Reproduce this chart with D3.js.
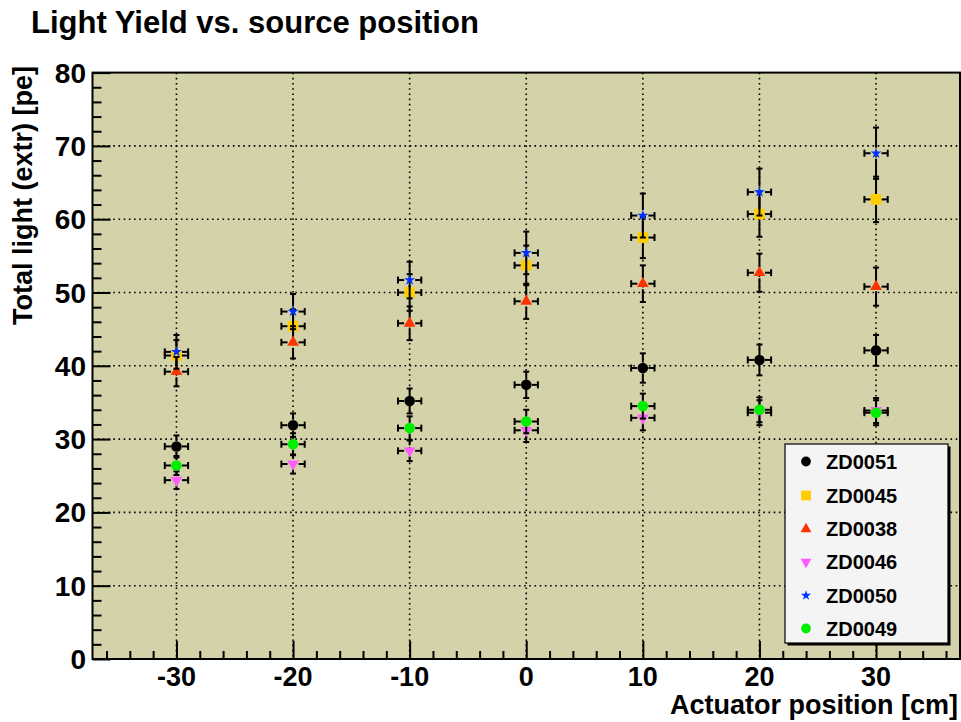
<!DOCTYPE html>
<html>
<head>
<meta charset="utf-8">
<script src="https://cdn.jsdelivr.net/npm/d3@7"></script>
<style>
  html, body { margin: 0; padding: 0; background: #ffffff; }
  svg { display: block; }
  text { font-family: "Liberation Sans", Arial, Helvetica, sans-serif; font-weight: bold; fill: #000; }
</style>
</head>
<body>
<svg id="chart" width="961" height="722"></svg>
<script>
// ---- data ----
const positions = [-30, -20, -10, 0, 10, 20, 30];
const xError = 1;
const seriesNames = ["ZD0051", "ZD0045", "ZD0038", "ZD0046", "ZD0050", "ZD0049"];
const ZD0051 = [29.0, 31.9, 35.2, 37.4, 39.7, 40.8, 42.1];
const ZD0051_err = [1.5, 1.6, 1.7, 1.8, 2.0, 2.1, 2.1];
const ZD0045 = [41.4, 45.4, 50.0, 53.7, 57.5, 60.7, 62.7];
const ZD0045_err = [2.1, 2.3, 2.5, 2.7, 2.8, 3.1, 3.1];
const ZD0038 = [39.2, 43.2, 45.8, 48.8, 51.2, 52.7, 50.8];
const ZD0038_err = [2.0, 2.2, 2.3, 2.4, 2.5, 2.6, 2.6];
const ZD0046 = [24.4, 26.6, 28.4, 31.2, 32.9, 33.6, 33.9];
const ZD0046_err = [1.2, 1.3, 1.4, 1.6, 1.7, 1.7, 1.7];
const ZD0050 = [41.9, 47.4, 51.7, 55.4, 60.5, 63.7, 69.0];
const ZD0050_err = [2.3, 2.4, 2.5, 2.9, 3.0, 3.2, 3.5];
const ZD0049 = [26.4, 29.3, 31.5, 32.4, 34.5, 34.0, 33.6];
const ZD0049_err = [1.3, 1.5, 1.6, 1.6, 1.7, 1.7, 1.7];
const xTicks = [-30, -20, -10, 0, 10, 20, 30];
const yTicks = [0, 10, 20, 30, 40, 50, 60, 70, 80];

const seriesValues = [ZD0051, ZD0045, ZD0038, ZD0046, ZD0050, ZD0049];
const seriesErrors = [ZD0051_err, ZD0045_err, ZD0038_err, ZD0046_err, ZD0050_err, ZD0049_err];

// ---- styles ----
const styles = [
  { color: "#000000", shape: d3.symbolCircle, size: 88, rot: 0 },
  { color: "#ffcc00", shape: d3.symbolSquare, size: 112, rot: 0 },
  { color: "#ff3300", shape: d3.symbolTriangle, size: 60, rot: 0 },
  { color: "#ff5cff", shape: d3.symbolTriangle, size: 60, rot: 180 },
  { color: "#0033ff", shape: d3.symbolStar, size: 38, rot: 0 },
  { color: "#00ee00", shape: d3.symbolCircle, size: 88, rot: 0 }
];

const svg = d3.select("#chart");
const frame = { left: 92.5, right: 960, top: 72.6, bottom: 659 };
const x = d3.scaleLinear().domain([-37.2, 37.2]).range([frame.left, frame.right]);
const y = d3.scaleLinear().domain([0, 80]).range([frame.bottom, frame.top]);

// frame background
svg.append("rect")
  .attr("x", frame.left).attr("y", frame.top)
  .attr("width", frame.right - frame.left).attr("height", frame.bottom - frame.top)
  .attr("fill", "#d4d2a8");

// grid
const grid = svg.append("g").attr("stroke", "#000").attr("stroke-width", 1.6).attr("stroke-dasharray", "1.6,3.6");
xTicks.forEach(t => {
  grid.append("line").attr("x1", x(t)).attr("x2", x(t)).attr("y1", frame.top).attr("y2", frame.bottom);
});
yTicks.filter(t => t > 0 && t < 80).forEach(t => {
  grid.append("line").attr("x1", frame.left).attr("x2", frame.right).attr("y1", y(t)).attr("y2", y(t));
});

// axes (ticks inside frame)
const xAxisMajor = d3.axisTop(x).tickValues(xTicks).tickSize(18).tickFormat("");
const xAxisMinor = d3.axisTop(x).tickValues(d3.range(-36, 37, 2).filter(v => v % 10 !== 0)).tickSize(8).tickFormat("");
const yAxisMajor = d3.axisRight(y).tickValues(yTicks).tickSize(18).tickFormat("");
const yAxisMinor = d3.axisRight(y).tickValues(d3.range(0, 81, 2).filter(v => v % 10 !== 0)).tickSize(9).tickFormat("");

function styleAxis(g) {
  g.select(".domain").remove();
  g.selectAll("line").attr("stroke", "#000").attr("stroke-width", 2);
}
svg.append("g").attr("transform", `translate(0,${frame.bottom})`).call(xAxisMajor).call(styleAxis);
svg.append("g").attr("transform", `translate(0,${frame.bottom})`).call(xAxisMinor).call(styleAxis);
svg.append("g").attr("transform", `translate(${frame.left},0)`).call(yAxisMajor).call(styleAxis);
svg.append("g").attr("transform", `translate(${frame.left},0)`).call(yAxisMinor).call(styleAxis);

// frame border
svg.append("rect")
  .attr("x", frame.left).attr("y", frame.top)
  .attr("width", frame.right - frame.left).attr("height", frame.bottom - frame.top)
  .attr("fill", "none").attr("stroke", "#000").attr("stroke-width", 2);

// tick labels
svg.append("g").selectAll("text").data(xTicks).join("text")
  .attr("x", d => x(d)).attr("y", 686)
  .attr("text-anchor", "middle").attr("font-size", 27)
  .text(d => d);
svg.append("g").selectAll("text").data(yTicks).join("text")
  .attr("x", 86).attr("y", d => y(d)).attr("dy", "0.36em")
  .attr("text-anchor", "end").attr("font-size", 28)
  .text(d => d);

// axis titles
svg.append("text").attr("x", 958).attr("y", 714).attr("text-anchor", "end")
  .attr("font-size", 27).text("Actuator position [cm]");
svg.append("text").attr("transform", "translate(32,66) rotate(-90)").attr("text-anchor", "end")
  .attr("font-size", 27).text("Total light (extr) [pe]");

// title
svg.append("text").attr("x", 31).attr("y", 33).attr("font-size", 31)
  .text("Light Yield vs. source position");

// data with error bars
const gap = 5.5, capV = 3, capH = 3.5;
seriesValues.forEach((vals, si) => {
  const st = styles[si];
  const g = svg.append("g");
  const pts = positions.map((p, i) => ({ px: x(p), py: y(vals[i]), xl: x(p - xError), xr: x(p + xError), yt: y(vals[i] + seriesErrors[si][i]), yb: y(vals[i] - seriesErrors[si][i]) }));
  const eb = g.append("g").attr("stroke", "#000").attr("stroke-width", 2).attr("fill", "none");
  pts.forEach(d => {
    eb.append("line").attr("x1", d.xl).attr("x2", d.px - gap).attr("y1", d.py).attr("y2", d.py);
    eb.append("line").attr("x1", d.px + gap).attr("x2", d.xr).attr("y1", d.py).attr("y2", d.py);
    eb.append("line").attr("x1", d.xl).attr("x2", d.xl).attr("y1", d.py - capH).attr("y2", d.py + capH);
    eb.append("line").attr("x1", d.xr).attr("x2", d.xr).attr("y1", d.py - capH).attr("y2", d.py + capH);
    if (d.py - d.yt > gap) {
      eb.append("line").attr("x1", d.px).attr("x2", d.px).attr("y1", d.yt).attr("y2", d.py - gap);
      eb.append("line").attr("x1", d.px).attr("x2", d.px).attr("y1", d.yb).attr("y2", d.py + gap);
    }
    eb.append("line").attr("x1", d.px - capV).attr("x2", d.px + capV).attr("y1", d.yt).attr("y2", d.yt);
    eb.append("line").attr("x1", d.px - capV).attr("x2", d.px + capV).attr("y1", d.yb).attr("y2", d.yb);
  });
  const sym = d3.symbol().type(st.shape).size(st.size);
  g.selectAll("path.m").data(pts).join("path")
    .attr("class", "m")
    .attr("d", sym)
    .attr("transform", d => `translate(${d.px},${d.py}) rotate(${st.rot})`)
    .attr("fill", st.color);
});

// legend
const leg = { x: 785, y: 444, w: 163, h: 199 };
svg.append("rect").attr("x", leg.x + 2.5).attr("y", leg.y + 2.5).attr("width", leg.w).attr("height", leg.h).attr("fill", "#000");
svg.append("rect").attr("x", leg.x).attr("y", leg.y).attr("width", leg.w).attr("height", leg.h)
  .attr("fill", "#f4f4f4").attr("stroke", "#000").attr("stroke-width", 1.2);
const legRows = [461.5, 495.5, 529, 562, 595.5, 628.5];
seriesNames.forEach((name, i) => {
  const st = styles[i];
  const sym = d3.symbol().type(st.shape).size(st.size * 0.85);
  svg.append("path").attr("d", sym)
    .attr("transform", `translate(806,${legRows[i]}) rotate(${st.rot})`)
    .attr("fill", st.color);
  svg.append("text").attr("x", 826).attr("y", legRows[i]).attr("dy", "0.36em")
    .attr("font-size", 20).text(name);
});
</script>
</body>
</html>
